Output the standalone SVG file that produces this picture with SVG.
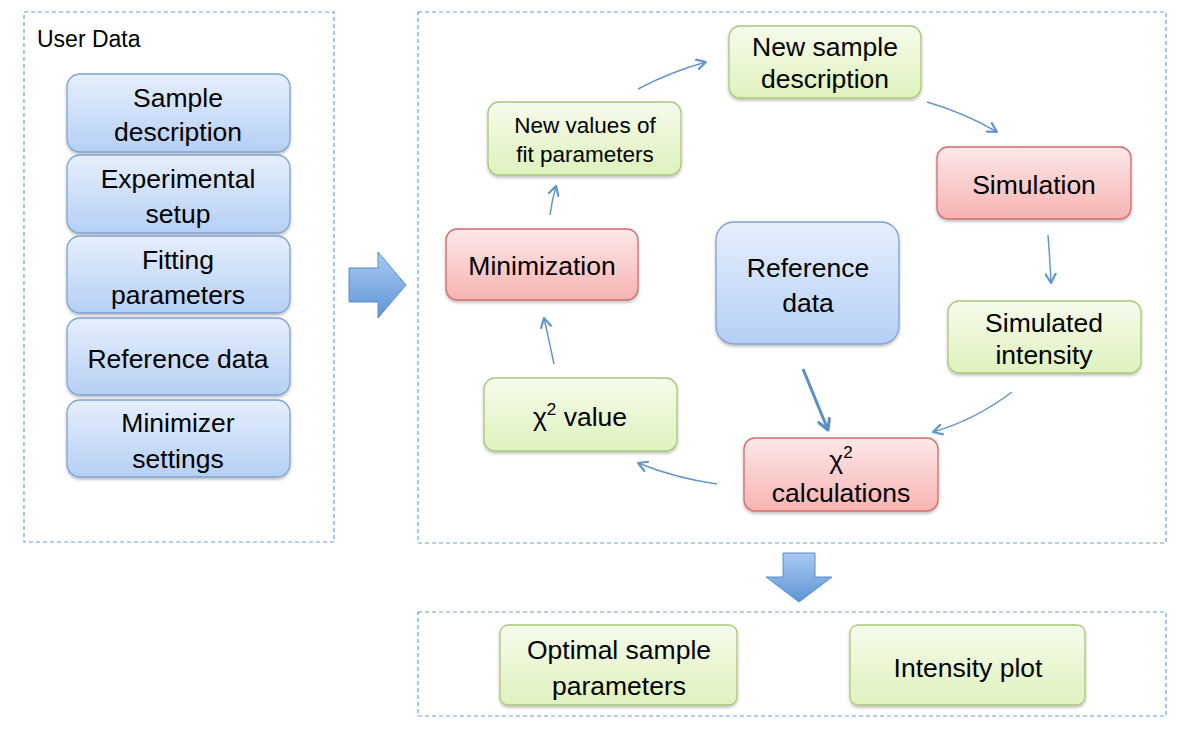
<svg xmlns="http://www.w3.org/2000/svg" width="1202" height="735" viewBox="0 0 1202 735">
<defs>
<linearGradient id="gBlue" x1="0" y1="0" x2="0" y2="1"><stop offset="0" stop-color="#e6effc"/><stop offset="1" stop-color="#b5cff5"/></linearGradient>
<linearGradient id="gGreen" x1="0" y1="0" x2="0" y2="1"><stop offset="0" stop-color="#f6fbec"/><stop offset="1" stop-color="#def2bd"/></linearGradient>
<linearGradient id="gRed" x1="0" y1="0" x2="0" y2="1"><stop offset="0" stop-color="#fde8e8"/><stop offset="1" stop-color="#f6b3b3"/></linearGradient>
<linearGradient id="gArrowH" x1="0" y1="0" x2="0" y2="1"><stop offset="0" stop-color="#a9c9f2"/><stop offset="1" stop-color="#5f95d6"/></linearGradient>
<filter id="sh" x="-10%" y="-10%" width="120%" height="130%"><feDropShadow dx="0" dy="2" stdDeviation="1.5" flood-color="#000" flood-opacity="0.25"/></filter>
<marker id="ah" viewBox="0 0 12 12" refX="10" refY="6" markerWidth="12" markerHeight="12" markerUnits="userSpaceOnUse" orient="auto"><path d="M1,1 L10,6 L1,11" fill="none" stroke="#6496cc" stroke-width="2.2" stroke-linecap="round" stroke-linejoin="round"/></marker>
<marker id="ahb" viewBox="0 0 12 12" refX="10" refY="6" markerWidth="14" markerHeight="14" markerUnits="userSpaceOnUse" orient="auto"><path d="M1,1 L10,6 L1,11" fill="none" stroke="#5b8dc6" stroke-width="2.6" stroke-linecap="round" stroke-linejoin="round"/></marker>
<style>
.cont{fill:#fff;stroke:#62a0dc;stroke-width:1.2;stroke-dasharray:4 3}
.blue{fill:url(#gBlue);stroke:#7fa3d3;stroke-width:1.3;filter:url(#sh)}
.green{fill:url(#gGreen);stroke:#a8c87c;stroke-width:1.3;filter:url(#sh)}
.red{fill:url(#gRed);stroke:#d36b6b;stroke-width:1.3;filter:url(#sh)}
text{font-family:"Liberation Sans",Arial,sans-serif;fill:#000;text-anchor:middle}
.t{font-size:26.5px}
.s{font-size:22.5px}
.lbl{font-size:23px;text-anchor:start}
.sup{font-size:17px}
.con{fill:none;stroke:#6496cc;stroke-width:1.5;marker-end:url(#ah)}
.bigarrow{fill:url(#gArrowH);stroke:#5a8cca;stroke-width:1}
</style>
</defs>
<rect width="1202" height="735" fill="#fff"/>
<g id="containers">
<rect class="cont" x="24" y="12" width="310" height="530"/>
<rect class="cont" x="418" y="12" width="748" height="531"/>
<rect class="cont" x="418" y="612" width="748" height="104"/>
</g>
<text class="lbl" x="37" y="47">User Data</text>
<g id="bigarrows">
<path class="bigarrow" d="M349,268 L378,268 L378,252 L406,285 L378,318 L378,302 L349,302 Z"/>
<path class="bigarrow" d="M783,553 L815,553 L815,577 L832,577 L799,602 L766,577 L783,577 Z"/>
</g>
<g id="n-sample"><rect class="blue" x="67" y="74" width="223" height="78" rx="13"/><text class="t" x="178" y="107">Sample</text><text class="t" x="178" y="141">description</text></g>
<g id="n-exp"><rect class="blue" x="67" y="155" width="223" height="78" rx="13"/><text class="t" x="178" y="188">Experimental</text><text class="t" x="178" y="223">setup</text></g>
<g id="n-fit"><rect class="blue" x="67" y="236" width="223" height="77" rx="13"/><text class="t" x="178" y="269">Fitting</text><text class="t" x="178" y="304">parameters</text></g>
<g id="n-ref"><rect class="blue" x="67" y="318" width="223" height="77" rx="13"/><text class="t" x="178" y="368">Reference data</text></g>
<g id="n-min"><rect class="blue" x="67" y="400" width="223" height="77" rx="13"/><text class="t" x="178" y="432">Minimizer</text><text class="t" x="178" y="468">settings</text></g>
<g id="n-newsample"><rect class="green" x="729" y="26" width="192" height="72" rx="11"/><text class="t" x="825" y="56">New sample</text><text class="t" x="825" y="88">description</text></g>
<g id="n-newvalues"><rect class="green" x="488" y="102" width="193" height="73" rx="11"/><text class="s" x="585" y="133">New values of</text><text class="s" x="585" y="162">fit parameters</text></g>
<g id="n-simulation"><rect class="red" x="937" y="147" width="194" height="72" rx="11"/><text class="t" x="1034" y="194">Simulation</text></g>
<g id="n-simint"><rect class="green" x="948" y="301" width="193" height="72" rx="11"/><text class="t" x="1044" y="332">Simulated</text><text class="t" x="1044" y="364">intensity</text></g>
<g id="n-minimization"><rect class="red" x="446" y="229" width="192" height="71" rx="11"/><text class="t" x="542" y="275">Minimization</text></g>
<g id="n-refdata"><rect class="blue" x="716" y="222" width="183" height="122" rx="18"/><text class="t" x="808" y="277">Reference</text><text class="t" x="808" y="312">data</text></g>
<g id="n-chival"><rect class="green" x="484" y="378" width="193" height="73" rx="11"/><text class="t" x="580" y="426">χ<tspan class="sup" dy="-11">2</tspan><tspan dy="11"> value</tspan></text></g>
<g id="n-chicalc"><rect class="red" x="744" y="438" width="194" height="73" rx="11"/><text class="t" x="841" y="469">χ<tspan class="sup" dy="-11">2</tspan></text><text class="t" x="841" y="502">calculations</text></g>
<g id="n-optimal"><rect class="green" x="500" y="625" width="237" height="80" rx="8"/><text class="t" x="619" y="659">Optimal sample</text><text class="t" x="619" y="695">parameters</text></g>
<g id="n-intplot"><rect class="green" x="850" y="625" width="235" height="80" rx="8"/><text class="t" x="968" y="677">Intensity plot</text></g>
<g id="connectors">
<path class="con" d="M638,89 Q670,72 706,62"/>
<path class="con" d="M927,102 Q965,113 997,132"/>
<path class="con" d="M1048,235 Q1050,260 1051,283"/>
<path class="con" d="M1012,392 Q975,420 933,432"/>
<path d="M803,369 L828,430" fill="none" stroke="#5b8dc6" stroke-width="3" marker-end="url(#ahb)"/>
<path class="con" d="M717,484 Q675,478 638,463"/>
<path class="con" d="M554,364 Q549,340 544,318"/>
<path class="con" d="M550,215 Q552,200 556,186"/>
</g>
</svg>
